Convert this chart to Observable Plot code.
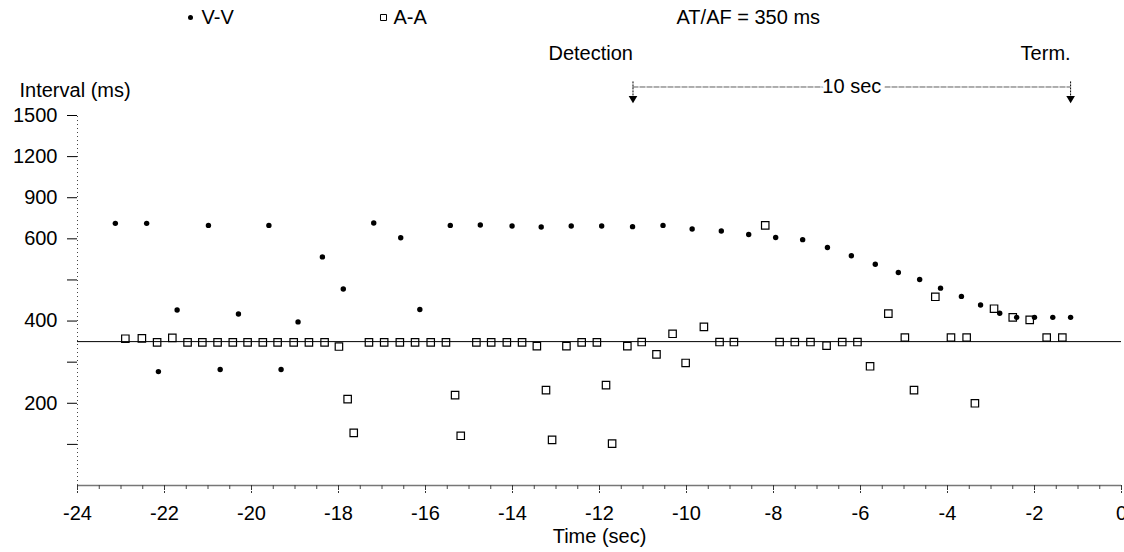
<!DOCTYPE html>
<html>
<head>
<meta charset="utf-8">
<script src="https://cdn.jsdelivr.net/npm/d3@7"></script>
<script src="https://cdn.jsdelivr.net/npm/@observablehq/plot@0.6"></script>
<style>
  html, body { margin: 0; padding: 0; background: #fff; }
  #chart svg { display: block; }
</style>
</head>
<body>
<div id="chart"></div>
<script>
// ---- Data ----
// V-V intervals: time (s) and interval (ms)
const vvTime = [-23.13, -22.41, -22.14, -21.71, -20.99, -20.72, -20.30, -19.60, -19.32, -18.93,
  -18.37, -17.89, -17.19, -16.57, -16.13, -15.43, -14.74, -14.01, -13.34, -12.65,
  -11.95, -11.24, -10.54, -9.87, -9.20, -8.57, -7.95, -7.33, -6.76, -6.21,
  -5.66, -5.13, -4.64, -4.16, -3.68, -3.24, -2.80, -2.41, -2.00, -1.58, -1.17];
const vvInterval = [713, 713, 277, 427, 698, 282, 417, 698, 282, 398,
  556, 478, 716, 608, 428, 698, 701, 694, 686, 694,
  694, 689, 698, 672, 657, 632, 610, 598, 579, 559,
  538, 518, 501, 480, 460, 439, 419, 409, 409, 409, 409];

// A-A intervals: time (s) and interval (ms)
const aaTime = [-22.90, -22.52, -22.17, -21.82, -21.47, -21.13, -20.78, -20.43, -20.09, -19.74,
  -19.40, -19.03, -18.68, -18.32, -17.99, -17.79, -17.65, -17.30, -16.95, -16.59,
  -16.24, -15.88, -15.53, -15.32, -15.19, -14.83, -14.49, -14.13, -13.78, -13.44,
  -13.23, -13.09, -12.76, -12.41, -12.06, -11.85, -11.71, -11.36, -11.03, -10.69,
  -10.32, -10.02, -9.60, -9.24, -8.91, -8.19, -7.86, -7.51, -7.15, -6.78,
  -6.42, -6.07, -5.78, -5.36, -4.98, -4.77, -4.28, -3.92, -3.56, -3.37,
  -2.93, -2.50, -2.11, -1.72, -1.36];
const aaInterval = [357, 358, 348, 359, 348, 348, 348, 348, 348, 348,
  348, 348, 348, 348, 338, 210, 128, 348, 348, 348,
  348, 348, 348, 220, 121, 348, 348, 348, 348, 339,
  232, 111, 339, 348, 348, 244, 102, 339, 349, 319,
  369, 298, 386, 349, 349, 698, 349, 349, 349, 340,
  349, 349, 290, 418, 360, 232, 459, 360, 360, 200,
  430, 409, 403, 360, 360];

const threshold = [350];                 // AT/AF = 350 ms line
const eventLabels = ["Detection", "Term."];
const eventTimes = [-11.23, -1.17];
const spanLabel = ["10 sec"];
const legendLabels = ["V-V", "A-A", "AT/AF = 350 ms"];
const xTicks = d3.range(-24, 0.001, 2);
const xMinorTicks = d3.range(-24, 0.001, 0.5);
const yTicks = [100, 200, 300, 400, 500, 600, 900, 1200, 1500];
const yLabeled = [200, 400, 600, 900, 1200, 1500];

// ---- Tables built from the arrays ----
const vv = vvTime.map((t, i) => ({t, v: vvInterval[i]}));
const aa = aaTime.map((t, i) => ({t, v: aaInterval[i]}));
const events = eventLabels.map((label, i) => ({label, t: eventTimes[i]}));

const FONT = "'Liberation Sans', Arial, Helvetica, sans-serif";
const FS = 20;
// the reference axis is compressed 3:1 above 600 ms
const compress = v => (v <= 600 ? v : 600 + (v - 600) / 3);
const expand = c => Math.round(c <= 600 ? c : 600 + (c - 600) * 3);
// values above the frame for the header annotations (on the compressed upper piece)
const yArrowTop = 1745, yArrowHead = 1625, ySpan = 1708;

const chart = Plot.plot({
  width: 1124,
  height: 552,
  marginLeft: 77,
  marginRight: 3,
  marginTop: 115,
  marginBottom: 67,
  style: {fontFamily: FONT, fontSize: FS + "px", color: "#000", background: "#fff", overflow: "visible"},
  x: {domain: [-24, 0], range: [77, 1121]},
  y: {transform: compress, domain: [0, compress(1500)], range: [485, 115]},
  marks: [
    // axis lines
    Plot.ruleX([-24], {y1: 0, y2: 1500, stroke: "#444", strokeDasharray: "1,3", strokeWidth: 1}),
    Plot.ruleY([0], {stroke: "#777", strokeWidth: 1.5}),
    // threshold line
    Plot.ruleY(threshold, {stroke: "#000", strokeWidth: 1}),
    // axes
    Plot.axisX({ticks: xMinorTicks, tickSize: 4, tickFormat: () => "", label: null, stroke: "#444"}),
    Plot.axisX({ticks: xTicks, tickSize: 8, tickPadding: 12, tickFormat: d => String(d),
      fontSize: FS, label: null, stroke: "#333", strokeDasharray: "2,1"}),
    Plot.axisY({ticks: yTicks.map(compress), tickSize: 10, tickPadding: 10,
      tickFormat: c => yLabeled.includes(expand(c)) ? String(expand(c)) : "", fontSize: FS, label: null}),
    // axis titles
    Plot.text(["Interval (ms)"], {frameAnchor: "top-left", dx: -58, dy: -33, textAnchor: "start", fontSize: FS}),
    Plot.text(["Time (sec)"], {frameAnchor: "bottom", dy: 57, fontSize: FS}),
    // data
    Plot.dot(aa, {x: "t", y: "v", symbol: "square", r: 4.2, stroke: "#000", strokeWidth: 1.2, fill: "none"}),
    Plot.dot(vv, {x: "t", y: "v", r: 2.7, fill: "#000", stroke: "none"}),
    // legend
    Plot.dot([legendLabels[0]], {frameAnchor: "top-left", dx: 113, dy: -98, r: 2.5, fill: "#000"}),
    Plot.text([legendLabels[0]], {frameAnchor: "top-left", dx: 124, dy: -106, textAnchor: "start", fontSize: FS}),
    Plot.dot([legendLabels[1]], {frameAnchor: "top-left", dx: 306, dy: -98, symbol: "square", r: 3.4, stroke: "#000", strokeWidth: 1, fill: "none"}),
    Plot.text([legendLabels[1]], {frameAnchor: "top-left", dx: 316, dy: -106, textAnchor: "start", fontSize: FS}),
    Plot.text([legendLabels[2]], {frameAnchor: "top-left", dx: 599, dy: -106, textAnchor: "start", fontSize: FS}),
    // detection / termination annotations
    Plot.text(events, {x: "t", text: "label", frameAnchor: "top", dy: -70, textAnchor: "end", fontSize: FS}),
    Plot.ruleY([ySpan], {x1: eventTimes[0], x2: eventTimes[1], stroke: "#333", strokeWidth: 0.8, strokeDasharray: "6,1"}),
    Plot.ruleX(events, {x: "t", y1: yArrowTop, y2: yArrowHead, stroke: "#000", strokeWidth: 1, strokeDasharray: "2,1"}),
    Plot.dot(events, {x: "t", y: yArrowHead, symbol: "triangle", rotate: 180, r: 3.2, fill: "#000"}),
    Plot.text(spanLabel, {x: d3.mean(eventTimes), y: ySpan, fontSize: FS, stroke: "#fff", strokeWidth: 8, fill: "#000", paintOrder: "stroke"})
  ]
});
document.getElementById("chart").appendChild(chart);
</script>
</body>
</html>
